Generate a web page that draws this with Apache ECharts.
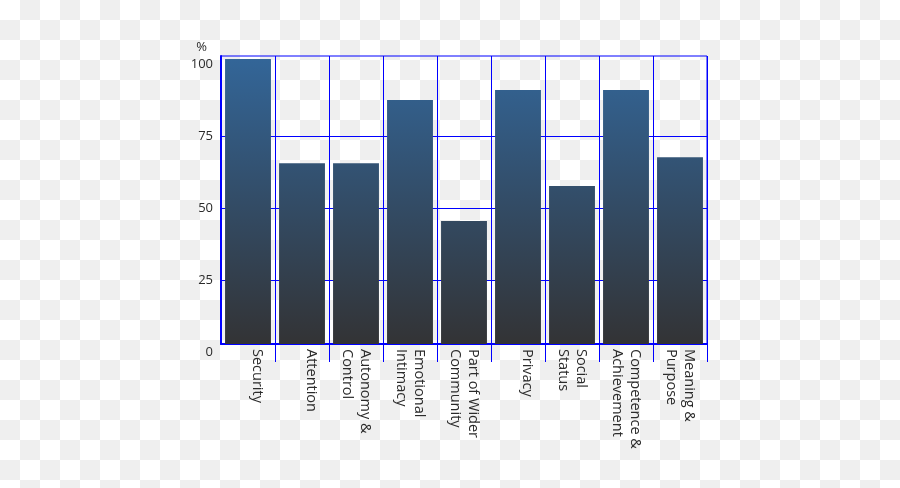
<!DOCTYPE html>
<html>
<head>
<meta charset="utf-8">
<script src="https://cdn.jsdelivr.net/npm/echarts@6/dist/echarts.min.js"></script>
<style>
  html, body { margin:0; padding:0; }
  body {
    width:900px; height:488px; overflow:hidden;
    background-color:#fff;
    background-image: repeating-conic-gradient(#efefef 0 25%, #fff 0 50%);
    background-size: 40px 40px;
  }
  #chart { width:900px; height:488px; }
</style>
</head>
<body>
<div id="chart"></div>
<script>
// ---- data ----
const categories = [
  'Security',
  'Attention',
  'Autonomy &\nControl',
  'Emotional\nIntimacy',
  'Part of Wider\nCommunity',
  'Privacy',
  'Social\nStatus',
  'Competence &\nAchievement',
  'Meaning &\nPurpose'
];
const values = [101.7, 65.5, 65.5, 87.5, 45.5, 91, 57.6, 91, 67.6];
const yTickValues = [0, 25, 50, 75, 100];
const gridLineValues = [25, 50, 75];
const yAxisName = '%';

const BLUE = '#0000ff';
const FONT = 'Open Sans';

const chart = echarts.init(document.getElementById('chart'), null, { renderer: 'canvas' });

chart.setOption({
  backgroundColor: 'transparent',
  animation: false,
  grid: [
    { left: 221, right: 193, top: 56, bottom: 144, show: true, borderColor: BLUE, borderWidth: 1, backgroundColor: 'transparent', containLabel: false },
    { left: 221, right: 193, top: 64, bottom: 136, show: false, containLabel: false }
  ],
  xAxis: [
    {
      type: 'category', gridIndex: 0, data: categories, position: 'bottom',
      boundaryGap: true,
      axisLine: { show: true, onZero: false, lineStyle: { color: BLUE, width: 2 } },
      axisTick: { show: true, length: 18, interval: function (i) { return i !== 0; }, lineStyle: { color: BLUE, width: 1 } },
      splitLine: { show: true, interval: 0, lineStyle: { color: BLUE, width: 1 } },
      axisLabel: {
        interval: 0, rotate: -90, margin: 5,
        color: '#2b2b2b', fontFamily: FONT, fontSize: 14.5, lineHeight: 18,
        formatter: function (v) { return v.indexOf('\n') >= 0 ? v : v + '\n'; }
      }
    },
    { type: 'value', gridIndex: 1, show: false, min: 0, max: 1 }
  ],
  yAxis: [
    {
      type: 'value', gridIndex: 0, position: 'left',
      min: 8 / 2.88, max: (352 - 56) / 2.88,
      axisLine: { show: true, lineStyle: { color: BLUE, width: 2 } },
      axisTick: { show: false, customValues: gridLineValues },
      axisLabel: { show: false },
      splitLine: { show: true, lineStyle: { color: BLUE, width: 1 } }
    },
    {
      type: 'value', gridIndex: 1, position: 'left',
      min: 0, max: 100, interval: 25,
      name: yAxisName, nameLocation: 'end', nameGap: 10,
      nameTextStyle: { color: '#2b2b2b', fontFamily: FONT, fontSize: 13, align: 'right', padding: [0, 14, 0, 0] },
      axisLine: { show: false }, axisTick: { show: false }, splitLine: { show: false },
      axisLabel: { show: true, margin: 8, color: '#2b2b2b', fontFamily: FONT, fontSize: 13,
        customValues: yTickValues }
    }
  ],
  series: [{
    type: 'bar', xAxisIndex: 0, yAxisIndex: 0,
    data: values,
    barCategoryGap: '15%',
    clip: true,
    itemStyle: {
      color: {
        type: 'linear', x: 0, y: 56, x2: 0, y2: 344, global: true,
        colorStops: [{ offset: 0, color: '#336699' }, { offset: 1, color: '#333335' }]
      }
    }
  }]
});
</script>
</body>
</html>
